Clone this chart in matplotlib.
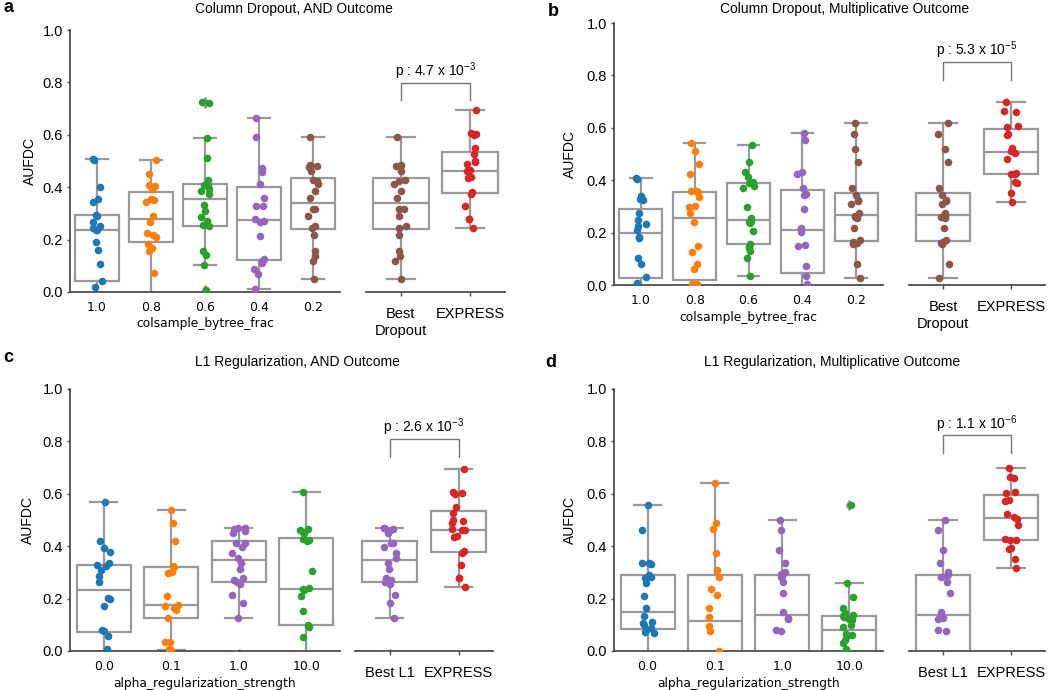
import numpy as np
import matplotlib
matplotlib.use("Agg")
import matplotlib.pyplot as plt
from matplotlib.transforms import ScaledTranslation

# ---------------- data ----------------
dropout_cats = ["1.0", "0.8", "0.6", "0.4", "0.2"]
l1_cats = ["0.0", "0.1", "1.0", "10.0"]

# Panel a: Column dropout, AND outcome
a_10 = [0.508, 0.505, 0.40, 0.355, 0.342, 0.295, 0.29, 0.268, 0.25, 0.245, 0.238, 0.235, 0.19, 0.16, 0.108, 0.043, 0.02, -0.03, -0.05, -0.07, -0.09]
a_08 = [0.503, 0.45, 0.407, 0.405, 0.393, 0.355, 0.352, 0.342, 0.291, 0.266, 0.225, 0.219, 0.21, 0.183, 0.168, 0.155, 0.072, -0.03]
a_06 = [0.727, 0.722, 0.587, 0.511, 0.428, 0.409, 0.403, 0.393, 0.384, 0.374, 0.333, 0.31, 0.286, 0.272, 0.255, 0.25, 0.155, 0.142, 0.102, 0.009]
a_04 = [0.663, 0.59, 0.475, 0.457, 0.414, 0.36, 0.33, 0.327, 0.278, 0.272, 0.266, 0.215, 0.126, 0.119, 0.11, 0.088, 0.07, 0.013]
a_02 = [0.593, 0.485, 0.482, 0.479, 0.46, 0.428, 0.422, 0.414, 0.384, 0.358, 0.318, 0.316, 0.291, 0.25, 0.246, 0.217, 0.155, 0.136, 0.117, 0.05]
and_express = [0.695, 0.606, 0.60, 0.604, 0.551, 0.527, 0.50, 0.495, 0.49, 0.464, 0.462, 0.46, 0.44, 0.435, 0.381, 0.373, 0.327, 0.28, 0.278, 0.246]

# Panel b: Column dropout, multiplicative outcome
b_10 = [0.408, 0.405, 0.338, 0.329, 0.325, 0.276, 0.248, 0.232, 0.227, 0.21, 0.185, 0.181, 0.102, 0.079, 0.032, 0.006, -0.03, -0.05, -0.07, -0.09]
b_08 = [0.541, 0.51, 0.461, 0.424, 0.359, 0.357, 0.354, 0.335, 0.302, 0.299, 0.274, 0.24, 0.149, 0.125, 0.079, 0.06, 0.003, 0.003, -0.03, -0.05, -0.07, -0.09]
b_06 = [0.535, 0.469, 0.433, 0.414, 0.395, 0.389, 0.378, 0.369, 0.299, 0.255, 0.245, 0.242, 0.238, 0.206, 0.158, 0.15, 0.14, 0.131, 0.104, 0.036]
b_04 = [0.582, 0.552, 0.433, 0.424, 0.369, 0.348, 0.344, 0.29, 0.219, 0.201, 0.153, 0.15, 0.074, 0.034, 0.003, -0.03, -0.05, -0.07]
b_02 = [0.618, 0.575, 0.52, 0.471, 0.372, 0.343, 0.325, 0.32, 0.311, 0.273, 0.264, 0.259, 0.255, 0.216, 0.172, 0.163, 0.16, 0.157, 0.08, 0.025]
mult_express = [0.697, 0.665, 0.662, 0.605, 0.603, 0.576, 0.573, 0.522, 0.51, 0.505, 0.48, 0.427, 0.425, 0.424, 0.395, 0.391, 0.353, 0.315]

# Panel c: L1 regularization, AND outcome
c_00 = [0.57, 0.42, 0.392, 0.377, 0.335, 0.327, 0.324, 0.309, 0.288, 0.265, 0.201, 0.197, 0.173, 0.08, 0.076, 0.057, 0.006, -0.03, -0.05, -0.07]
c_01 = [0.538, 0.49, 0.42, 0.326, 0.322, 0.303, 0.296, 0.21, 0.176, 0.172, 0.163, 0.156, 0.125, 0.036, 0.033, 0.006, 0.004]
c_10 = [0.468, 0.468, 0.464, 0.458, 0.452, 0.411, 0.411, 0.398, 0.375, 0.356, 0.335, 0.312, 0.277, 0.271, 0.265, 0.254, 0.214, 0.184, 0.125, -0.01]
c_100 = [0.608, 0.466, 0.462, 0.455, 0.449, 0.426, 0.424, 0.42, 0.305, 0.239, 0.237, 0.233, 0.21, 0.153, 0.099, 0.093, 0.052, -0.03, -0.05, -0.07]

# Panel d: L1 regularization, multiplicative outcome
d_00 = [0.557, 0.462, 0.337, 0.335, 0.331, 0.29, 0.284, 0.277, 0.258, 0.21, 0.165, 0.135, 0.112, 0.108, 0.099, 0.089, 0.08, 0.074, 0.067, -0.03, -0.05, -0.07]
d_01 = [0.642, 0.49, 0.466, 0.373, 0.309, 0.284, 0.235, 0.214, 0.165, 0.131, 0.097, 0.078, 0.0, -0.03, -0.05, -0.07, -0.09, -0.11, -0.13, -0.15]
d_10 = [0.5, 0.462, 0.386, 0.337, 0.3, 0.293, 0.288, 0.284, 0.265, 0.223, 0.148, 0.125, 0.122, 0.08, 0.078, -0.03, -0.05, -0.07, -0.09, -0.11, -0.13, -0.15]
d_100 = [0.557, 0.258, 0.207, 0.165, 0.144, 0.137, 0.134, 0.128, 0.122, 0.118, 0.099, 0.093, 0.064, 0.061, 0.057, 0.042, 0.032, 0.006, -0.03, -0.05, -0.07, -0.09, -0.11, -0.13]

p_labels = ["4.7", "5.3", "2.6", "1.1"]
p_exps = ["-3", "-5", "-3", "-6"]

# ---------------- style ----------------
BLUE, ORANGE, GREEN, RED, PURPLE, BROWN = "#1f77b4", "#ff7f0e", "#2ca02c", "#d62728", "#9467bd", "#8c564b"
BOX = "#999999"
SPINE = "#4d4d4d"
SANS = "Liberation Sans"
plt.rcParams["mathtext.default"] = "regular"

fig = plt.figure(figsize=(10.5, 6.9), dpi=100)
W, H = 1050.0, 690.0


def ax_px(x0, x1, ytop, ybot):
    return fig.add_axes([x0 / W, 1 - ybot / H, (x1 - x0) / W, (ybot - ytop) / H])


def style(ax, left=True):
    for s in ["top", "right"]:
        ax.spines[s].set_visible(False)
    ax.spines["bottom"].set_color(SPINE)
    ax.spines["bottom"].set_linewidth(1.3)
    if left:
        ax.spines["left"].set_color(SPINE)
        ax.spines["left"].set_linewidth(1.3)
    else:
        ax.spines["left"].set_visible(False)
        ax.set_yticks([])
    ax.tick_params(color=SPINE, length=3, width=1)
    ax.set_ylim(0, 1.0)


rng = np.random.default_rng(3)


def draw_groups(ax, groups, colors):
    n = len(groups)
    ax.boxplot(groups, positions=list(range(n)), widths=0.8, whis=1.5, patch_artist=True,
               boxprops=dict(facecolor="white", edgecolor=BOX, linewidth=1.6),
               medianprops=dict(color=BOX, linewidth=1.6),
               whiskerprops=dict(color=BOX, linewidth=1.6),
               capprops=dict(color=BOX, linewidth=1.6),
               flierprops=dict(marker="d", markerfacecolor=BOX, markeredgecolor=BOX, markersize=5),
               zorder=1)
    for i, (vals, c) in enumerate(zip(groups, colors)):
        v = np.asarray(vals)
        jit = rng.uniform(-0.1, 0.1, len(v))
        ax.scatter(i + jit, v, s=30, color=c, linewidths=0, zorder=3)
    ax.set_xlim(-0.5, n - 0.5)


def main_panel(ax, groups, colors, cats, xlabel, ylab_x):
    style(ax, True)
    draw_groups(ax, groups, colors)
    ax.set_xticks(range(len(cats)))
    ax.set_xticklabels(cats, fontsize=9, family="DejaVu Sans")
    ax.tick_params(axis="x", length=0, pad=6.5)
    ax.tick_params(axis="y", length=2.5, pad=2.5)
    ax.set_yticks(np.arange(0, 1.01, 0.2))
    ax.set_yticklabels([f"{t:.1f}" for t in np.arange(0, 1.01, 0.2)], fontsize=10.5, family=SANS)
    ax.set_xlabel(xlabel, fontsize=8.8, family="DejaVu Sans", labelpad=2.5)
    ax.set_ylabel("AUFDC", fontsize=10, family=SANS)
    ax.yaxis.set_label_coords(ylab_x, 0.5)


def comp_panel(ax, groups, colors, labels, pval, pexp, y_leg, y_top, y_txt):
    style(ax, False)
    draw_groups(ax, groups, colors)
    ax.set_xticks([0, 1])
    ax.set_xticklabels(labels, fontsize=10.5, family=SANS, va="center")
    ax.tick_params(axis="x", pad=12.5)
    if "\n" in labels[0]:
        lab = ax.get_xticklabels()[0]
        lab.set_transform(lab.get_transform() + ScaledTranslation(0, -0.09, fig.dpi_scale_trans))
    ax.plot([0, 0, 1, 1], [y_leg, y_top, y_top, y_leg], color="#777777", lw=1, clip_on=False)
    ax.text(0.5, y_txt, "p : " + pval + " x 10$^{" + pexp + "}$", ha="center", va="center",
            fontsize=10, family=SANS)


# Panel a
axa = ax_px(70, 340, 30, 292)
main_panel(axa, [a_10, a_08, a_06, a_04, a_02], [BLUE, ORANGE, GREEN, PURPLE, BROWN],
           dropout_cats, "colsample_bytree_frac", -0.122)
axa2 = ax_px(366, 505, 30, 292)
comp_panel(axa2, [a_02, and_express], [BROWN, RED], ["Best\nDropout", "EXPRESS"],
           p_labels[0], p_exps[0], 0.733, 0.799, 0.843)

# Panel b
axb = ax_px(614, 883, 23, 285)
main_panel(axb, [b_10, b_08, b_06, b_04, b_02], [BLUE, ORANGE, GREEN, PURPLE, BROWN],
           dropout_cats, "colsample_bytree_frac", -0.1375)
axb2 = ax_px(909, 1045, 23, 285)
comp_panel(axb2, [b_02, mult_express], [BROWN, RED], ["Best\nDropout", "EXPRESS"],
           p_labels[1], p_exps[1], 0.783, 0.851, 0.895)

# Panel c
axc = ax_px(70, 340, 389, 651)
main_panel(axc, [c_00, c_01, c_10, c_100], [BLUE, ORANGE, PURPLE, GREEN],
           l1_cats, "alpha_regularization_strength", -0.13)
axc2 = ax_px(355, 493, 389, 651)
comp_panel(axc2, [c_10, and_express], [PURPLE, RED], ["Best L1", "EXPRESS"],
           p_labels[2], p_exps[2], 0.742, 0.809, 0.853)

# Panel d
axd = ax_px(614, 883, 389, 651)
main_panel(axd, [d_00, d_01, d_10, d_100], [BLUE, ORANGE, PURPLE, GREEN],
           l1_cats, "alpha_regularization_strength", -0.1375)
axd2 = ax_px(909, 1045, 389, 651)
comp_panel(axd2, [d_10, mult_express], [PURPLE, RED], ["Best L1", "EXPRESS"],
           p_labels[3], p_exps[3], 0.757, 0.824, 0.865)

# Titles and panel letters
def ftext(x, y, s, **kw):
    fig.text(x / W, 1 - y / H, s, **kw)

ftext(294, 9, "Column Dropout, AND Outcome", ha="center", va="center", fontsize=10, family=SANS)
ftext(845, 9, "Column Dropout, Multiplicative Outcome", ha="center", va="center", fontsize=10, family=SANS)
ftext(297, 362, "L1 Regularization, AND Outcome", ha="center", va="center", fontsize=10, family=SANS)
ftext(832, 362, "L1 Regularization, Multiplicative Outcome", ha="center", va="center", fontsize=10, family=SANS)

for letter, x, y in [("a", 8, 8), ("b", 553, 11), ("c", 8, 358), ("d", 551, 362)]:
    ftext(x, y, letter, ha="center", va="center", fontsize=13, fontweight="bold", family=SANS)

fig.savefig("out.png", dpi=100)
